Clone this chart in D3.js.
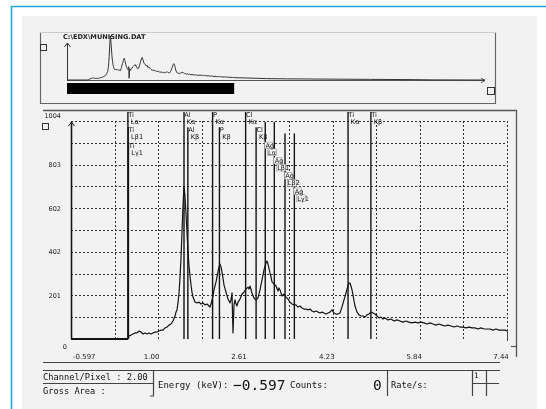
<!DOCTYPE html>
<html><head><meta charset="utf-8">
<script src="https://cdn.jsdelivr.net/npm/d3@7"></script>
<style>html,body{margin:0;padding:0;background:#fff;}svg{display:block;will-change:transform}text{-webkit-font-smoothing:antialiased}</style>
</head><body><svg id="c" width="546" height="409"></svg>
<script>
// ---------------- data ----------------
const fileName = "C:\\EDX\\MUNISING.DAT";
const energyDomain = [-0.597, 7.44];
const overviewEnergyMax = 19.5;
const countsMax = 1004;
const xTickLabels = ["-0.597", "1.00", "2.61", "4.23", "5.84", "7.44"];
const yTickLabels = ["0", "201", "402", "602", "803", "1004"];

const spectrumEnergy = [-0.597,0.454,0.472,0.509,0.546,0.583,0.620,0.657,0.693,0.730,0.767,0.804,0.841,0.878,0.915,0.951,0.988,1.025,1.062,1.099,1.136,1.173,1.209,1.246,1.283,1.320,1.339,1.357,1.375,1.394,1.412,1.431,1.449,1.468,1.486,1.504,1.523,1.541,1.560,1.578,1.597,1.615,1.633,1.652,1.689,1.726,1.763,1.799,1.836,1.873,1.910,1.947,1.965,1.984,2.002,2.021,2.039,2.076,2.113,2.131,2.150,2.168,2.186,2.205,2.223,2.260,2.297,2.334,2.352,2.371,2.389,2.408,2.426,2.445,2.463,2.481,2.518,2.555,2.592,2.629,2.666,2.684,2.703,2.739,2.776,2.813,2.850,2.887,2.924,2.961,2.997,3.016,3.034,3.071,3.090,3.108,3.145,3.182,3.219,3.237,3.256,3.292,3.329,3.366,3.403,3.440,3.477,3.514,3.550,3.587,3.624,3.661,3.698,3.735,3.772,3.809,3.845,3.882,3.919,3.956,3.993,4.030,4.067,4.104,4.140,4.177,4.214,4.251,4.288,4.325,4.362,4.380,4.398,4.435,4.472,4.509,4.528,4.546,4.564,4.583,4.601,4.620,4.638,4.675,4.712,4.749,4.785,4.822,4.859,4.896,4.933,4.970,5.007,5.044,5.080,5.117,5.154,5.191,5.246,5.302,5.357,5.412,5.468,5.523,5.578,5.633,5.689,5.744,5.799,5.855,5.910,5.965,6.021,6.076,6.131,6.186,6.242,6.297,6.352,6.408,6.463,6.518,6.574,6.629,6.684,6.739,6.795,6.850,6.905,6.961,7.016,7.071,7.127,7.182,7.237,7.292,7.348,7.403,7.440];
const spectrumCounts = [0,0,14,18,23,28,28,37,32,23,28,23,28,23,28,32,32,37,41,41,51,55,64,69,83,106,124,134,166,212,281,373,493,617,700,659,576,493,401,336,290,249,216,193,170,166,170,161,166,157,161,152,147,161,180,198,226,263,309,332,345,332,309,281,249,216,184,166,180,212,28,157,180,161,152,170,184,207,216,230,239,230,244,212,189,180,189,226,272,318,350,359,345,304,286,263,253,244,221,235,226,198,207,193,184,170,161,157,157,147,152,143,138,138,134,138,129,124,129,124,120,124,120,115,120,124,134,120,115,115,120,134,147,180,212,244,258,258,244,226,203,175,152,124,111,106,106,101,111,115,124,120,115,106,97,101,92,97,88,92,83,88,83,78,83,78,74,78,74,78,74,69,74,69,64,69,64,60,64,60,55,60,55,55,51,55,51,51,46,51,46,46,46,41,46,41,41,41,37];

// high-energy tail only visible in the overview strip
const tailEnergy = [8.0, 8.5, 9.0, 10.0, 12.0, 14.0, 16.0, 17.0, 19.5];
const tailCounts = [32, 28, 22, 18, 14, 10, 6, 2, 0];

const lineElements = ["Ti","Ti","Ti","Al","Al","P","P","Cl","Cl","Ag","Ag","Ag","Ag","Ti","Ti"];
const lineNames    = ["Lα","Lβ1","Lγ1","Kα","Kβ","Kα","Kβ","Kα","Kβ","Lα","Lβ1","Lβ2","Lγ1","Kα","Kβ"];
const lineEnergies = [0.452,0.458,0.462,1.486,1.557,2.013,2.139,2.622,2.815,2.984,3.151,3.348,3.520,4.510,4.931];

const channelPerPixel = "2.00";
const cursorEnergy = "-0.597";
const cursorCounts = "0";
const rateChannel = "1";

// ---------------- drawing ----------------
const svg = d3.select("#c");
const INK = "#141414", FRAME = "#555";
const mono = "'DejaVu Sans Mono', 'Liberation Mono', monospace";
const sans = "'DejaVu Sans', 'Liberation Sans', sans-serif";

svg.append("rect").attr("width",546).attr("height",409).attr("fill","#fff");
svg.append("rect").attr("x",22).attr("y",16).attr("width",515).attr("height",400).attr("fill","#f2f2f2");
svg.append("path").attr("d","M11.5,420V6.5H560").attr("fill","none").attr("stroke","#22a8e0").attr("stroke-width",1.6);

function hline(x1,x2,yy,c,w){svg.append("line").attr("x1",x1).attr("x2",x2).attr("y1",yy).attr("y2",yy).attr("stroke",c||FRAME).attr("stroke-width",w||1.2);}
function vline(xx,y1,y2,c,w){svg.append("line").attr("x1",xx).attr("x2",xx).attr("y1",y1).attr("y2",y2).attr("stroke",c||FRAME).attr("stroke-width",w||1.2);}
function box(x0,y0,s){svg.append("rect").attr("x",x0+0.5).attr("y",y0+0.5).attr("width",s).attr("height",s).attr("fill","none").attr("stroke","#333").attr("stroke-width",1);}

// ---- overview strip ----
vline(40.5,32,104,"#666");
vline(495.5,32,104,"#666");
hline(40,496,103.5,"#666");
hline(40,496,32.5,"#ccc",1);
box(40,44,6);
box(487,87,7);
svg.append("text").attr("x",63).attr("y",39).attr("font-family",sans).attr("font-size",6.6).attr("font-weight","bold").attr("fill","#222").text(fileName);

const mx = d3.scaleLinear().domain([energyDomain[0], overviewEnergyMax]).range([67, 485]);
const my = d3.scaleLinear().domain([0, 700]).range([80, 36]);
hline(67,485,80.5,"#555",1.1);
vline(67.5,43,81,"#333",1);
svg.append("path").attr("d","M64.5,47L67.5,43L70.5,47").attr("fill","none").attr("stroke","#333").attr("stroke-width",1);
svg.append("path").attr("d","M481,78L485,80.5L481,83").attr("fill","none").attr("stroke","#555").attr("stroke-width",1);
const overviewPts = spectrumEnergy.map((e,i)=>({e,c:spectrumCounts[i]})).concat(tailEnergy.map((e,i)=>({e,c:tailCounts[i]})));
svg.append("path").datum(overviewPts)
  .attr("d", d3.line().x(d=>mx(d.e)).y(d=>my(d.c)))
  .attr("fill","none").attr("stroke","#333").attr("stroke-width",1);
svg.append("rect").attr("x",mx(energyDomain[0])).attr("y",83).attr("width",mx(energyDomain[1])-mx(energyDomain[0])).attr("height",11).attr("fill","#000");

// ---- main panel frame ----
hline(43,517,110.5,FRAME,1.5);
vline(516.5,110,357,FRAME,1.3);
hline(511,517,346.5,FRAME,1.2);
hline(43,500,362.5,"#444",1.2);
box(42,123,6);

const x = d3.scaleLinear().domain(energyDomain).range([71, 507]);
const y = d3.scaleLinear().domain([0, countsMax]).range([339, 121]);

// grid (10 divisions each way)
const gx = d3.range(1, 11).map(i => energyDomain[0] + i*(energyDomain[1]-energyDomain[0])/10);
const gy = d3.range(1, 11).map(i => i*countsMax/10);
const grid = svg.append("g").attr("stroke","#333").attr("stroke-width",1).attr("stroke-dasharray","2,2");
gx.forEach(v => grid.append("line").attr("x1",Math.round(x(v))+0.5).attr("x2",Math.round(x(v))+0.5).attr("y1",y(countsMax)).attr("y2",y(0)));
gy.forEach(v => grid.append("line").attr("x1",x(energyDomain[0])).attr("x2",x(energyDomain[1])).attr("y1",Math.round(y(v))+0.5).attr("y2",Math.round(y(v))+0.5));

// y axis with arrow
vline(x(energyDomain[0])+0.5, 122, y(0), INK, 1.6);
svg.append("path").attr("d",`M${x(energyDomain[0])-2.5},126L${x(energyDomain[0])+0.5},122L${x(energyDomain[0])+3.5},126`).attr("fill","none").attr("stroke",INK).attr("stroke-width",1);

// y tick labels
yTickLabels.forEach((t,i) => {
  const v = +t;
  let ty = y(v) + 2.5, tx = 61;
  if (i === 0) { ty = y(0) + 10; tx = 67; }
  if (i === yTickLabels.length-1) { ty = y(v) - 3; }
  svg.append("text").attr("x",tx).attr("y",ty).attr("text-anchor","end")
    .attr("font-family",sans).attr("font-size",6.5).attr("fill","#222").text(t);
});
// x tick labels
xTickLabels.forEach((t,i) => {
  const v = +t;
  const first = i === 0;
  svg.append("text").attr("x", first ? x(v)+2 : x(v)-6).attr("y",359)
    .attr("text-anchor", first ? "start" : "middle")
    .attr("font-family",sans).attr("font-size",7).attr("fill","#222").text(t);
});

// element marker lines (layout rows kept here)
const labelRow = [0,1,2,0,1,0,1,0,1,2,3,4,5,0,0];
const topRow   = [0,1,2,0,1,0,1,0,1,0.65,0.65,1.4,1.4,0,0];
const rowY = r => 117 + 15.3*r;
const markers = svg.append("g");
lineEnergies.forEach((e,i) => {
  const xx = x(e);
  markers.append("line").attr("x1",xx).attr("x2",xx).attr("y1",rowY(topRow[i])-5).attr("y2",y(0))
    .attr("stroke",INK).attr("stroke-width",1.4);
});
lineEnergies.forEach((e,i) => {
  const xx = x(e), yy = rowY(labelRow[i]);
  if (lineElements[i] === "Ag") {
    markers.append("rect").attr("x",xx-0.5).attr("y",yy-5.5).attr("width",7.5).attr("height",6.5)
      .attr("fill","#f2f2f2").attr("stroke","#888").attr("stroke-width",0.5);
    markers.append("rect").attr("x",xx+2.3).attr("y",yy+1.3).attr("width",9).attr("height",6.8)
      .attr("fill","#f2f2f2").attr("stroke","#888").attr("stroke-width",0.5);
  }
  markers.append("text").attr("x",xx+0.3).attr("y",yy).attr("font-family",sans).attr("font-size",6.6).attr("fill","#111").text(lineElements[i]);
  markers.append("text").attr("x",xx+2.8).attr("y",yy+7).attr("font-family",sans).attr("font-size",6.6).attr("fill","#111").text(lineNames[i]);
});

// spectrum
const pts = spectrumEnergy.map((e,i)=>({e,c:spectrumCounts[i]}));
const line = d3.line().x(d=>x(d.e)).y(d=>y(d.c));
svg.append("path").datum(pts).attr("d",line).attr("fill","none").attr("stroke",INK).attr("stroke-width",1.2).attr("stroke-linejoin","round");
svg.append("path").datum(pts.filter(d=>d.c===0)).attr("d",line).attr("fill","none").attr("stroke",INK).attr("stroke-width",2);
// end tick
vline(x(energyDomain[1])+0.5, y(spectrumCounts[spectrumCounts.length-1]), y(0)+2, "#444", 1);

// ---- footer ----
hline(43,500,370.5,"#444",1.2);
hline(43,153,383.5,"#444",1);
vline(153.5,370,396,"#444",1.2);
hline(150,154,396,"#444",1);
vline(387.5,370,396,"#444",1.2);
vline(472.5,370,396,"#444",1.2);
vline(486.5,370,396,"#444",1.2);
hline(472,499,383.5,"#444",1);

const ft = (tx,ty,s,size,fam) => svg.append("text").attr("x",tx).attr("y",ty).attr("font-family",fam||mono).attr("font-size",size).attr("fill","#111").text(s);
ft(43,380,"Channel/Pixel : " + channelPerPixel, 8.7);
ft(43,394,"Gross Area :", 8.7);
ft(158,388,"Energy (keV):", 9);
ft(233,390,cursorEnergy.replace("-","\u2212"), 14.5);
ft(290,388,"Counts:", 9);
ft(373,390,cursorCounts, 14.5);
ft(391,388,"Rate/s:", 8.7);
ft(474,378,rateChannel, 7.5);
</script></body></html>
